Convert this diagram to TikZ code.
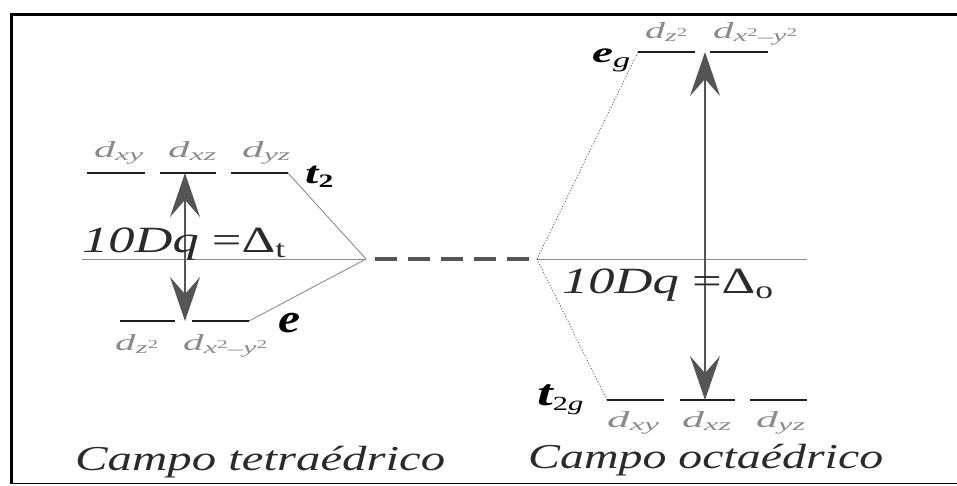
\documentclass[tikz,border=0pt]{standalone}
\usepackage{fontspec}
\setmainfont{Liberation Serif}
\usetikzlibrary{arrows.meta}
\definecolor{lvl}{HTML}{1E1E1E}
\definecolor{dgray}{HTML}{8A8A8A}
\definecolor{thin}{HTML}{8C8C8C}
\definecolor{arr}{HTML}{555555}
\definecolor{txt}{HTML}{2A2A2A}
\newcommand{\dl}[2]{\resizebox{#1}{\height}{\textit{d}\raisebox{-0.3ex}{\fontsize{17pt}{17pt}\selectfont #2}}}
\newcommand{\sq}{\raisebox{0.55ex}{\fontsize{12pt}{12pt}\selectfont 2}}
\tikzset{
  level/.style={draw=lvl, line width=2.6pt},
  thinline/.style={draw=thin, line width=0.9pt},
  dotline/.style={draw=arr, line width=0.9pt, dotted},
  midline/.style={draw=arr, line width=4pt, dash pattern=on 22pt off 11pt},
  gap/.style={draw=arr, line width=2pt, {Stealth[length=44pt,width=30pt,inset=17pt]}-{Stealth[length=44pt,width=30pt,inset=17pt]}},
  dlab/.style={anchor=base west, inner sep=0pt, text=dgray, font=\fontsize{23pt}{23pt}\selectfont},
  sym/.style={anchor=base west, inner sep=0pt, text=black},
  big/.style={anchor=base west, inner sep=0pt, text=txt, font=\fontsize{35pt}{35pt}\selectfont\itshape},
}
\begin{document}
\begin{tikzpicture}[x=1pt,y=-1pt]
\useasboundingbox (0,0) rectangle (957,485);
% frame
\draw[black, line width=3pt] (10,14) -- (957,14);
\draw[black, line width=3pt] (11,14) -- (11,483);
\draw[thin, line width=1.5pt] (10,483.5) -- (957,483.5);

% convergence points
\coordinate (cl) at (366,259);
\coordinate (cr) at (537,259);
\coordinate (hl) at (82,259);
\coordinate (hr) at (807,259);
\coordinate (ds) at (375,259);
\coordinate (de) at (529,259);

% tetrahedral t2 levels
\coordinate (ta1) at (87,173);  \coordinate (tb1) at (145,173);
\coordinate (ta2) at (160,173); \coordinate (tb2) at (216,173);
\coordinate (ta3) at (231,173); \coordinate (tb3) at (288,173);
% tetrahedral e levels
\coordinate (ea1) at (120,321); \coordinate (eb1) at (175,321);
\coordinate (ea2) at (192,321); \coordinate (eb2) at (249,321);
% octahedral eg levels
\coordinate (ga1) at (638,52); \coordinate (gb1) at (695,52);
\coordinate (ga2) at (710,52); \coordinate (gb2) at (768,52);
% octahedral t2g levels
\coordinate (oa1) at (607,400); \coordinate (ob1) at (664,400);
\coordinate (oa2) at (680,400); \coordinate (ob2) at (735,400);
\coordinate (oa3) at (750,400); \coordinate (ob3) at (807,400);
% arrow ends
\coordinate (lt) at (185,173); \coordinate (lb) at (185,321);
\coordinate (rt) at (705,52);  \coordinate (rb) at (705,400);

% baseline and connectors
\draw[thinline] (hl) -- (cl);
\draw[thinline] (cr) -- (hr);
\draw[midline] (ds) -- (de);
\draw[thinline] (tb3) -- (cl);
\draw[thinline] (eb2) -- (cl);
\draw[dotline] (cr) -- (ga1);
\draw[dotline] (cr) -- (oa1);

% levels
\foreach \a/\b in {ta1/tb1,ta2/tb2,ta3/tb3,ea1/eb1,ea2/eb2,ga1/gb1,ga2/gb2,oa1/ob1,oa2/ob2,oa3/ob3}
  \draw[level] (\a) -- (\b);

% gap arrows
\draw[gap] (lb) -- (lt);
\draw[gap] (rb) -- (rt);

% orbital labels
\node[dlab] (lxy) at (94,157) {\dl{49pt}{\textit{xy}}};
\node[dlab] (lxz) at (168,157) {\dl{48pt}{\textit{xz}}};
\node[dlab] (lyz) at (242,157) {\dl{48pt}{\textit{yz}}};
\node[dlab] (lz2) at (115,350) {\dl{43pt}{\textit{z}\sq}};
\node[dlab] (lx2) at (183,350) {\dl{84pt}{\textit{x}\sq\raisebox{-0.2ex}{–}\textit{y}\sq}};
\node[dlab] (rz2) at (645,38) {\dl{42pt}{\textit{z}\sq}};
\node[dlab] (rx2) at (713,38) {\dl{84pt}{\textit{x}\sq\raisebox{-0.2ex}{–}\textit{y}\sq}};
\node[dlab] (rxy) at (607,427) {\dl{52pt}{\textit{xy}}};
\node[dlab] (rxz) at (682,427) {\dl{49pt}{\textit{xz}}};
\node[dlab] (ryz) at (756,427) {\dl{49pt}{\textit{yz}}};

% symmetry labels
\node[sym, font=\fontsize{31pt}{31pt}\selectfont\bfseries\itshape] (t2) at (305,183)
  {\resizebox{28pt}{\height}{t\raisebox{-0.35ex}{\fontsize{19pt}{19pt}\selectfont\upshape 2}}};
\node[sym, font=\fontsize{41pt}{41pt}\selectfont\bfseries\itshape] (e) at (278,332)
  {\resizebox{22pt}{\height}{e}};
\node[sym, font=\fontsize{29pt}{29pt}\selectfont\bfseries\itshape] (eg) at (592,62)
  {\resizebox{38pt}{\height}{e\raisebox{-0.45ex}{\fontsize{21pt}{21pt}\selectfont\mdseries g}}};
\node[sym, font=\fontsize{37pt}{37pt}\selectfont\bfseries\itshape] (t2g) at (537,405)
  {\resizebox{46pt}{\height}{t\raisebox{-0.3ex}{\fontsize{20pt}{20pt}\selectfont\mdseries\upshape 2\itshape g}}};

% splitting labels
\node[big, font=\fontsize{37pt}{37pt}\selectfont] (dt) at (82,252) {\resizebox{203pt}{\height}{\itshape 10Dq \upshape =Δ\raisebox{-0.3ex}{\fontsize{25pt}{25pt}\selectfont t}}};
\node[big, font=\fontsize{37pt}{37pt}\selectfont] (do) at (562,293) {\resizebox{211pt}{\height}{\itshape 10Dq \upshape =Δ\raisebox{-0.3ex}{\fontsize{25pt}{25pt}\selectfont o}}};

% titles
\node[big] (tet) at (75,470) {\resizebox{370pt}{\height}{Campo tetraédrico}};
\node[big] (oct) at (528,468) {\resizebox{355pt}{\height}{Campo octaédrico}};
\end{tikzpicture}
\end{document}
